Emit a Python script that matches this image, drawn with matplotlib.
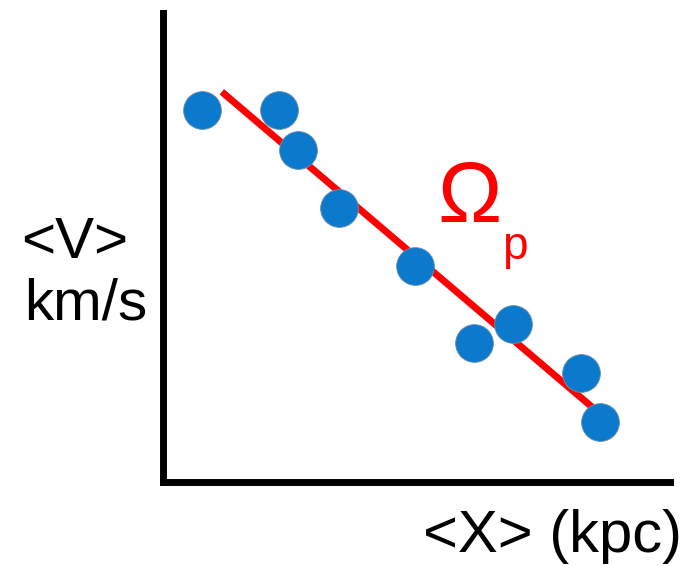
import matplotlib
matplotlib.use("Agg")
import matplotlib.pyplot as plt

plt.rcParams['font.family'] = ['Liberation Sans', 'DejaVu Sans']

# mean position vs mean velocity (schematic units)
x_pts = [0.77, 2.29, 2.66, 3.47, 4.97, 6.13, 6.90, 8.24, 8.62]
v_pts = [7.93, 7.93, 7.08, 5.84, 4.61, 2.96, 3.37, 2.32, 1.28]

# fitted slope line
x_fit = [1.16, 8.46]
v_fit = [8.32, 1.60]

W, H = 689, 566
fig = plt.figure(figsize=(W / 100, H / 100), dpi=100)
ax = fig.add_axes([163 / W, (H - 482) / H, (670 - 163) / W, (482 - 13) / H])

ax.plot(x_fit, v_fit, color='#ff0000', lw=5, solid_capstyle='butt', zorder=2)
ax.scatter(x_pts, v_pts, s=740, color='#0b79cc', edgecolors='#6a8fae',
           linewidths=0.6, zorder=3, clip_on=False)

ax.set_xlim(0, 10)
ax.set_ylim(0, 10)
ax.set_xticks([])
ax.set_yticks([])
for side in ['top', 'right']:
    ax.spines[side].set_visible(False)
for side in ['left', 'bottom']:
    ax.spines[side].set_linewidth(5)
    ax.spines[side].set_color('black')
    ax.spines[side].set_capstyle('projecting')

# slope label, Omega with a subscript p
fig.text(470 / W, 1 - 200 / H, '\u03a9', color='#ff0000', fontsize=62,
         ha='center', va='center')
fig.text(515 / W, 1 - 247 / H, 'p', color='#ff0000', fontsize=33,
         ha='center', va='center')

fig.text(21 / W, 1 - 243 / H, '<V>', fontsize=42, ha='left', va='center')
fig.text(24 / W, 1 - 304 / H, 'km/s', fontsize=42, ha='left', va='center')
fig.text(423 / W, 1 - 536 / H, '<X> (kpc)', fontsize=43, ha='left', va='center')

fig.savefig('out.png', dpi=100)
